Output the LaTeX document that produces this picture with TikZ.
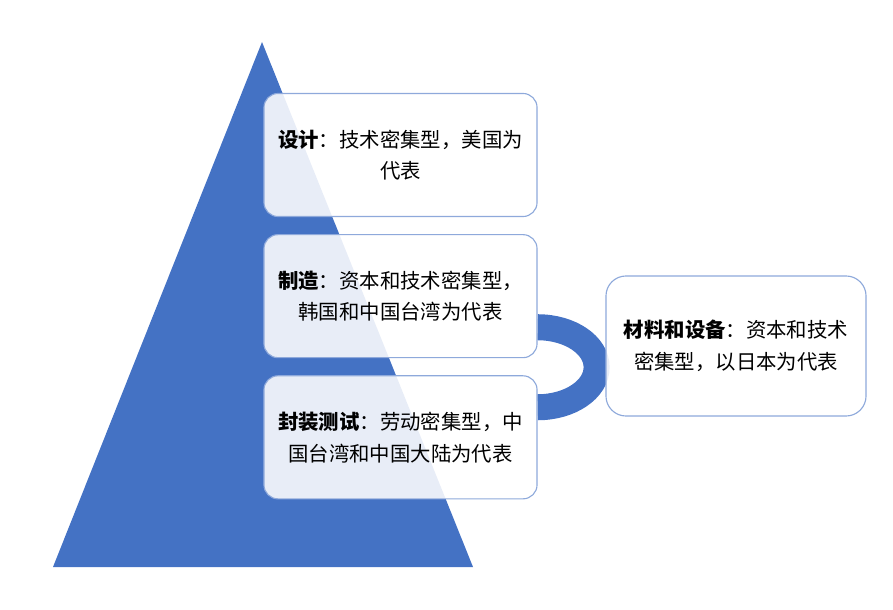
\documentclass[tikz,border=0pt]{standalone}
\usepackage{fontspec}
\usetikzlibrary{positioning,backgrounds}
\newfontfamily\cjk{Noto Sans CJK SC}
\definecolor{pyrblue}{HTML}{4472C4}
\definecolor{boxline}{HTML}{8EA9DB}
\tikzset{
layer/.style={
	  draw=boxline, line width=0.8pt, rounded corners=0.35cm,
	  fill=white, fill opacity=0.88, text opacity=1,
	  minimum width=6.825cm, minimum height=3.075cm,
	  align=center, font=\cjk\fontsize{14.5pt}{22.5pt}\selectfont},
link/.style={draw=pyrblue, line width=0.65cm}
}

\begin{document}
\begin{tikzpicture}[x=0.025cm, y=-0.025cm, node distance=0.425cm]
	\useasboundingbox (0,0) rectangle (893,610);
	\fill[pyrblue] (262,42) -- (473,567) -- (53,567) -- cycle;
	\node[layer] (design) at (400.5,155) {\textbf{设计}：技术密集型，美国为\\代表};
	\node[layer, below=of design] (fab) {\textbf{制造}：资本和技术密集型，\\韩国和中国台湾为代表};
	\node[layer, below=of fab] (pack) {\textbf{封装测试}：劳动密集型，中\\国台湾和中国大陆为代表};
	\node[layer, minimum width=6.5cm, minimum height=3.5cm,
		rounded corners=0.5cm] (supply) at (736,346)
		{\textbf{材料和设备}：资本和技术\\密集型，以日本为代表};
	\begin{scope}[on background layer]
		\draw[link] ([yshift=0.775cm]fab.south east)
			arc[start angle=90, end angle=-90, x radius=1.475cm, y radius=1cm];
	\end{scope}
\end{tikzpicture}
\end{document}
